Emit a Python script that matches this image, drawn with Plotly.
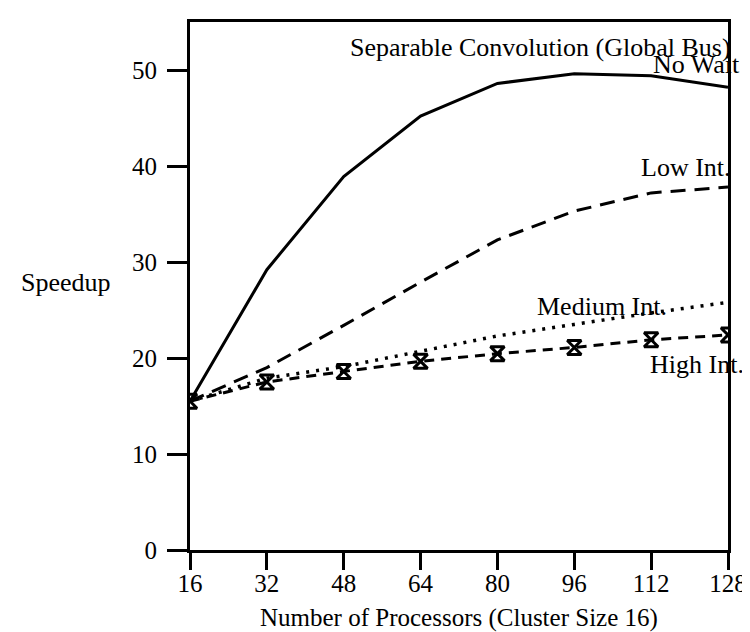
import plotly.graph_objects as go

processors = [16, 32, 48, 64, 80, 96, 112, 128]
no_wait = [15.5, 29.2, 38.9, 45.2, 48.6, 49.6, 49.4, 48.2]
low_int = [15.5, 19.0, 23.4, 27.9, 32.3, 35.3, 37.2, 37.8]
medium_int = [15.5, 17.9, 19.1, 20.7, 22.3, 23.5, 24.7, 25.8]
high_int = [15.5, 17.5, 18.6, 19.65, 20.45, 21.1, 21.9, 22.4]
x_ticks = [16, 32, 48, 64, 80, 96, 112, 128]
y_ticks = [0, 10, 20, 30, 40, 50]

FONT = "Liberation Serif, Times New Roman, serif"

fig = go.Figure()
fig.add_trace(go.Scatter(x=processors, y=no_wait, mode="lines",
                         line=dict(color="black", width=3), name="No Wait"))
fig.add_trace(go.Scatter(x=processors, y=low_int, mode="lines",
                         line=dict(color="black", width=3, dash="15px,9px"), name="Low Int."))
fig.add_trace(go.Scatter(x=processors, y=medium_int, mode="lines",
                         line=dict(color="black", width=3.5, dash="3px,7px"), name="Medium Int."))
fig.add_trace(go.Scatter(x=processors, y=high_int, mode="lines+markers",
                         line=dict(color="black", width=3, dash="10px,7px"),
                         marker=dict(symbol="hourglass-open", size=14, color="black",
                                     line=dict(width=3, color="black")),
                         name="High Int."))

ann_font = dict(family=FONT, size=26, color="black")
annotations = [
    dict(text="Separable Convolution (Global Bus)", x=1.01, y=0.9525, xanchor="right", yanchor="middle"),
    dict(text="No Wait", x=1.026, y=0.9186, xanchor="right", yanchor="middle"),
    dict(text="Low Int.", x=1.01, y=0.7238, xanchor="right", yanchor="middle"),
    dict(text="Medium Int.", x=0.642, y=0.4607, xanchor="left", yanchor="middle"),
    dict(text="High Int.", x=1.034, y=0.3514, xanchor="right", yanchor="middle"),
    dict(text="Speedup", x=-0.143, y=0.506, xanchor="right", yanchor="middle"),
]
for a in annotations:
    a.update(xref="paper", yref="paper", showarrow=False, font=ann_font)
annotations.append(dict(text="Number of Processors (Cluster Size 16)", x=0.5, y=-0.128,
                        xanchor="center", yanchor="middle", xref="paper", yref="paper",
                        showarrow=False, font=dict(family=FONT, size=25, color="black")))
fig.update_layout(annotations=annotations)

axis_common = dict(showline=True, linecolor="black", linewidth=3, mirror=True,
                   ticks="outside", tickcolor="black", tickwidth=3,
                   showgrid=False, zeroline=False,
                   tickfont=dict(family=FONT, size=25, color="black"))

fig.update_xaxes(range=[16, 128], tickvals=x_ticks, ticklen=17, ticklabelstandoff=-8, **axis_common)
fig.update_yaxes(range=[0, 55], tickvals=y_ticks, ticklen=20, ticklabelstandoff=5, **axis_common)

fig.update_layout(width=750, height=632, showlegend=False,
                  plot_bgcolor="white", paper_bgcolor="white",
                  margin=dict(l=182, r=23, t=11, b=90),
                  font=dict(family=FONT, color="black"))

fig.write_html("out.html")
